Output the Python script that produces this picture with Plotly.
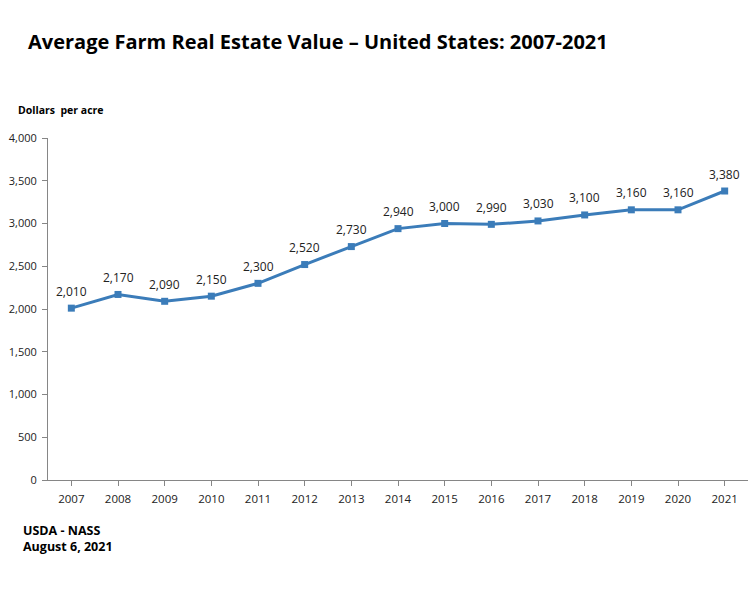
import plotly.graph_objects as go

years = ["2007", "2008", "2009", "2010", "2011", "2012", "2013", "2014",
         "2015", "2016", "2017", "2018", "2019", "2020", "2021"]
values = [2010, 2170, 2090, 2150, 2300, 2520, 2730, 2940,
          3000, 2990, 3030, 3100, 3160, 3160, 3380]
y_ticks = [0, 500, 1000, 1500, 2000, 2500, 3000, 3500, 4000]

line_color = "#3b7cb9"
axis_color = "#868686"
font = "Open Sans"

fig = go.Figure()
fig.add_trace(go.Scatter(
    x=years, y=values,
    mode="lines+markers",
    line=dict(color=line_color, width=3),
    marker=dict(symbol="square", size=7, color=line_color),
    showlegend=False,
))

# value labels above each point (category index, since "2007" would be read as a number)
for i, v in enumerate(values):
    fig.add_annotation(x=i, y=v, text=f"{v:,}", showarrow=False,
                       yshift=17, yanchor="middle",
                       font=dict(family=font, size=12, color="#222222"))

# page has an 8px body margin, so the figure is drawn 8px smaller
fig.update_layout(
    width=748, height=585,
    margin=dict(l=40, r=8, t=130, b=113),
    paper_bgcolor="white", plot_bgcolor="white",
    font=dict(family=font, color="#222222"),
    title=dict(
        text="<b>Average Farm Real Estate Value – United States: 2007-2021</b>",
        x=20 / 748, xanchor="left", y=1 - 34 / 585, yanchor="middle",
        font=dict(family=font, size=20, color="black"),
    ),
)
fig.add_annotation(text="<b>Dollars  per acre</b>", xref="paper", yref="paper",
                   x=-32 / 700, y=1 + 28 / 342, xanchor="left", yanchor="middle",
                   showarrow=False, font=dict(family=font, size=10.5, color="black"))
fig.add_annotation(text="<b>USDA - NASS<br>August 6, 2021</b>", xref="paper", yref="paper",
                   x=-27 / 700, y=-40 / 342, xanchor="left", yanchor="top", align="left",
                   showarrow=False, font=dict(family=font, size=12.5, color="black"))

fig.update_xaxes(
    type="category", range=[-0.5, 14.5], automargin=False,
    showline=True, linecolor=axis_color, linewidth=1,
    ticks="outside", ticklen=5, tickcolor=axis_color, ticklabelstandoff=3,
    showgrid=False, zeroline=False,
    tickfont=dict(family=font, size=11.5, color="#222222"),
)
fig.update_yaxes(
    range=[0, 4000], tickvals=y_ticks, tickformat=",", automargin=False,
    showline=True, linecolor=axis_color, linewidth=1,
    ticks="outside", ticklen=5, tickcolor=axis_color, ticklabelstandoff=3,
    showgrid=False, zeroline=False,
    tickfont=dict(family=font, size=11, color="#222222"),
)

fig.write_html("out.html")
